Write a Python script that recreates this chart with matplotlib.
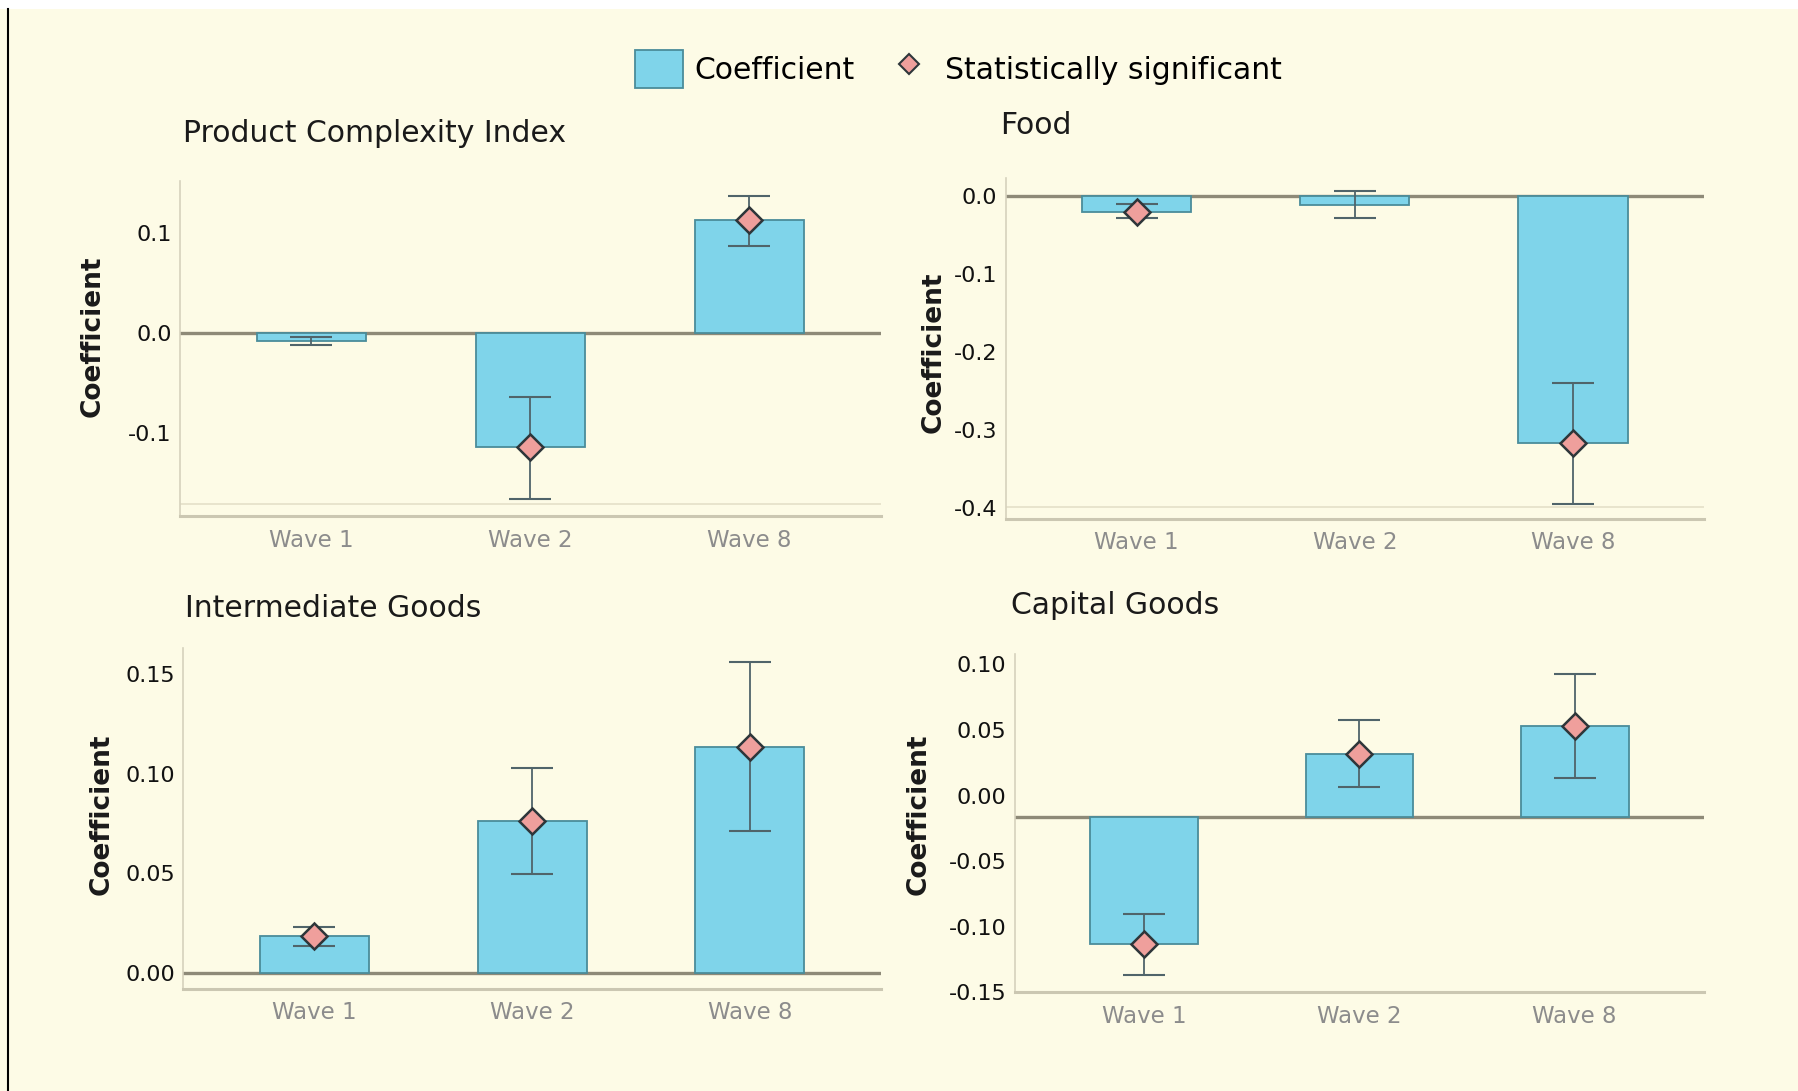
import matplotlib.pyplot as plt
from matplotlib.patches import Patch, Rectangle
from matplotlib.lines import Line2D

# data
waves = ['Wave 1', 'Wave 2', 'Wave 8']

pci_coef = [-0.008, -0.115, 0.113]
pci_low = [-0.012, -0.167, 0.087]
pci_high = [-0.004, -0.064, 0.137]
pci_sig = [False, True, True]

food_coef = [-0.021, -0.012, -0.316]
food_low = [-0.029, -0.029, -0.394]
food_high = [-0.011, 0.006, -0.240]
food_sig = [True, False, True]

inter_coef = [0.0183, 0.0765, 0.1135]
inter_low = [0.0133, 0.0497, 0.071]
inter_high = [0.0233, 0.1027, 0.1563]
inter_sig = [True, True, True]

cap_coef = [-0.1135, 0.0315, 0.053]
cap_low = [-0.137, 0.0063, 0.0133]
cap_high = [-0.090, 0.0576, 0.093]
cap_sig = [True, True, True]

BG = '#fdfbe6'
BAR = '#7fd4ea'
BAR_EDGE = '#4a8c9a'
DIAMOND = '#ef9f9c'
DIAMOND_EDGE = '#2e363a'
ERR = '#50646a'
ZERO = '#8e8a78'

plt.rcParams['font.family'] = ['DejaVu Sans']

fig = plt.figure(figsize=(17.98, 10.91), dpi=100, facecolor=BG)

# white strip at top and the thin black frame line on the left
fig.add_artist(Rectangle((0, 1 - 9 / 1091), 1, 9 / 1091, transform=fig.transFigure,
                         facecolor='white', edgecolor='none'))
fig.add_artist(Line2D([0.0045, 0.0045], [0, 1 - 9 / 1091], transform=fig.transFigure,
                      color='black', lw=1.5))

panels = [
    # title, coef, low, high, sig, rect, ylim, ticks, ticklabels, base, faint, ylabel x, ylabel y, title xy
    ('Product Complexity Index', pci_coef, pci_low, pci_high, pci_sig,
     [0.1001, 0.5268, 0.3897, 0.307], (-0.184, 0.152), [-0.1, 0.0, 0.1], ['-0.1', '0.0', '0.1'],
     0.0, -0.172, -0.106, 0.538, (0.102, 0.878)),
    ('Food', food_coef, food_low, food_high, food_sig,
     [0.5593, 0.5247, 0.3884, 0.3123], (-0.413, 0.023), [-0.4, -0.3, -0.2, -0.1, 0.0],
     ['-0.4', '-0.3', '-0.2', '-0.1', '0.0'],
     0.0, -0.398, -0.084, 0.488, (0.556, 0.885)),
    ('Intermediate Goods', inter_coef, inter_low, inter_high, inter_sig,
     [0.102, 0.0936, 0.3878, 0.3123], (-0.008, 0.163), [0.0, 0.05, 0.10, 0.15],
     ['0.00', '0.05', '0.10', '0.15'],
     0.0, None, -0.099, 0.512, (0.103, 0.442)),
    ('Capital Goods', cap_coef, cap_low, cap_high, cap_sig,
     [0.5644, 0.0904, 0.3833, 0.3102], (-0.150, 0.108), [-0.15, -0.10, -0.05, 0.0, 0.05, 0.10],
     ['-0.15', '-0.10', '-0.05', '0.00', '0.05', '0.10'],
     -0.0163, None, -0.121, 0.525, (0.5625, 0.445)),
]

xs = list(range(len(waves)))

for (title, coef, low, high, sig, rect, ylim, ticks, ticklabels,
     base, faint, lx, ly, txy) in panels:
    ax = fig.add_axes(rect)
    ax.set_facecolor(BG)
    heights = [c - base for c in coef]
    ax.bar(xs, heights, bottom=base, width=0.5, color=BAR, edgecolor=BAR_EDGE,
           linewidth=1.3, zorder=2)
    yerr = [[c - lo for c, lo in zip(coef, low)], [hi - c for c, hi in zip(coef, high)]]
    ax.errorbar(xs, coef, yerr=yerr, fmt='none', ecolor=ERR, elinewidth=1.3,
                capsize=15, capthick=1.5, zorder=3)
    sx = [x for x, s in zip(xs, sig) if s]
    sy = [c for c, s in zip(coef, sig) if s]
    ax.plot(sx, sy, ls='none', marker='D', ms=13.5, mfc=DIAMOND, mec=DIAMOND_EDGE,
            mew=1.8, zorder=4)
    ax.axhline(base, color=ZERO, lw=2.4, zorder=1)
    if faint is not None:
        ax.axhline(faint, color='#e4e0c8', lw=1.2, zorder=0)

    ax.set_xlim(-0.6, 2.6)
    ax.set_ylim(*ylim)
    ax.set_xticks(xs)
    ax.set_xticklabels(waves, fontsize=16.5, color='#8c8c8c')
    ax.set_yticks(ticks)
    ax.set_yticklabels(ticklabels, fontsize=16, color='#111111')
    ax.tick_params(axis='both', length=0)
    ax.tick_params(axis='x', pad=9)
    ax.tick_params(axis='y', pad=6)

    for side in ['top', 'right']:
        ax.spines[side].set_visible(False)
    ax.spines['left'].set_color('#d6d2bd')
    ax.spines['left'].set_linewidth(1.2)
    ax.spines['bottom'].set_color('#cbc7b2')
    ax.spines['bottom'].set_linewidth(2.2)

    ax.set_ylabel('Coefficient', fontsize=19, fontweight='bold', color='#1a1a1a')
    ax.yaxis.set_label_coords(lx, ly)

    fig.text(txy[0], txy[1], title, fontsize=21.5, color='#1a1a1a', va='center', ha='left')

handles = [
    Patch(facecolor=BAR, edgecolor=BAR_EDGE, linewidth=1.3),
    Line2D([], [], ls='none', marker='D', ms=10, mfc=DIAMOND, mec=DIAMOND_EDGE, mew=1.5),
]
fig.legend(handles, ['Coefficient', 'Statistically significant'], loc='center',
           bbox_to_anchor=(0.533, 0.937), ncol=2, frameon=False, fontsize=21.5,
           handlelength=1.6, handleheight=1.6, columnspacing=1.0, handletextpad=0.4)

fig.savefig('out.png', dpi=100, facecolor=BG)
